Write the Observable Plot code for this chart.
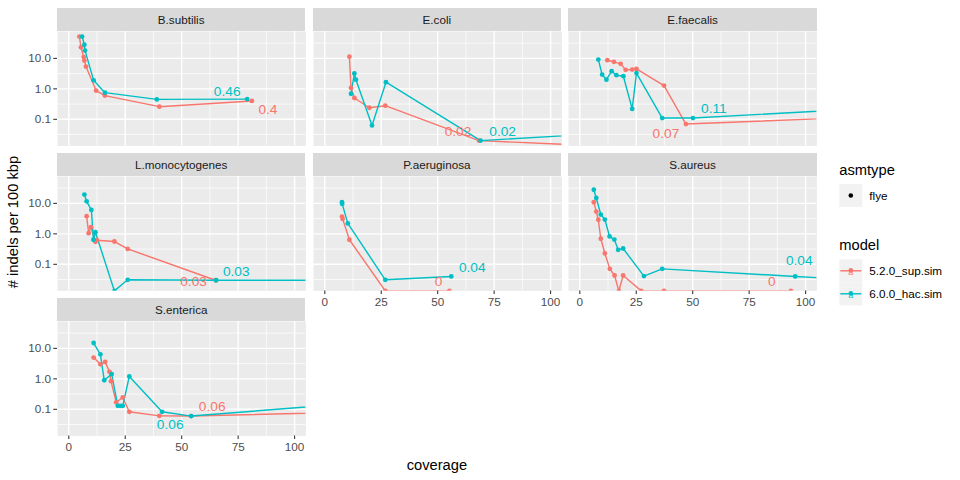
<!DOCTYPE html>
<html><head><meta charset="utf-8">
<script src="https://cdn.jsdelivr.net/npm/d3@7"></script>
<script src="https://cdn.jsdelivr.net/npm/@observablehq/plot@0.6"></script>
<style>
body{margin:0;background:#fff;font-family:"Liberation Sans",Arial,Helvetica,sans-serif;}
#root{position:relative;width:960px;height:480px;overflow:hidden;background:#fff;}
.strip{position:absolute;background:#D9D9D9;color:#1A1A1A;font-size:11.7px;text-align:center;white-space:nowrap;}
.title{position:absolute;color:#000;font-size:14.7px;white-space:nowrap;}
</style></head>
<body><div id="root"></div>
<script>
// ---- data ----
const models = ["5.2.0_sup.sim", "6.0.0_hac.sim"];
const modelColors = ["#F8766D", "#00BFC4"];
const asmtypes = ["flye"];
const species = ["B.subtilis", "E.coli", "E.faecalis", "L.monocytogenes", "P.aeruginosa", "S.aureus", "S.enterica"];

// [coverage, indels per 100 kbp]
const bsubtilisSup = [[4.7,52],[5.4,23],[6.6,11],[6.9,8.5],[7.6,5.4],[12.1,0.88],[16,0.6],[40.1,0.26],[81.1,0.4]];
const bsubtilisHac = [[5.9,52],[6.9,28],[7.2,18],[11,1.9],[16,0.75],[39,0.45],[79,0.46]];
const ecoliSup = [[10.9,11.4],[11.6,1.07],[13.1,0.5],[19.7,0.24],[26.8,0.28],[68.3,0.02],[122,0]];
const ecoliHac = [[11.6,0.69],[13.1,3.2],[13.8,2.0],[20.9,0.063],[27.1,1.65],[69,0.02],[150,0.045]];
const efaecalisSup = [[12.2,8.7],[15.1,7.7],[18.1,6.6],[20.3,4.2],[23.2,4.3],[25.1,4.5],[37.3,1.28],[47,0.07],[150,0.14]];
const efaecalisHac = [[8.2,9.1],[9.9,2.95],[11.8,2.0],[14.1,3.8],[16.2,2.8],[19.3,2.6],[23.2,0.22],[25.1,3.3],[36.5,0.11],[50.1,0.11],[150,0.28]];
const lmonoSup = [[7.9,3.8],[8.8,1.05],[9.8,1.65],[11.8,0.55],[12.4,0.62],[20.2,0.56],[26.1,0.32],[65,0.03]];
const lmonoHac = [[6.9,19.5],[7.9,11.7],[10,6.1],[10.9,0.64],[11.8,1.13],[20.2,0],[26.1,0.031],[65.3,0.03],[150,0.03]];
const paeruginosaSup = [[7.6,3.7],[7.9,3.1],[10.9,0.64],[26.8,0],[55.2,0]];
const paeruginosaHac = [[7.6,10.9],[7.7,9.6],[10.2,2.2],[26.8,0.031],[56,0.04]];
const saureusSup = [[6.2,10.9],[7.3,5.4],[8.2,2.9],[9.3,0.69],[11.1,0.23],[13.3,0.071],[15.4,0.043],[17.3,0],[19.2,0.043],[27.2,0],[37.3,0],[93.5,0]];
const saureusHac = [[6.2,28],[7.3,15],[9.3,4.3],[11.1,2.95],[13.2,0.82],[15.3,0.65],[17,0.3],[19.2,0.33],[28.4,0.041],[36.5,0.071],[95.4,0.04],[150,0.024]];
const sentericaSup = [[11,5.0],[14,3.0],[16.1,3.6],[18,1.7],[18.7,0.84],[21,0.17],[23.9,0.245],[26.8,0.083],[40.1,0.061],[54.2,0.06],[150,0.089]];
const sentericaHac = [[11,15],[14,6.4],[15.7,0.9],[19,1.43],[21.7,0.13],[22.8,0.13],[23.9,0.13],[26.8,1.2],[41.3,0.083],[54.2,0.06],[150,0.22]];

const supCurves = [bsubtilisSup, ecoliSup, efaecalisSup, lmonoSup, paeruginosaSup, saureusSup, sentericaSup];
const hacCurves = [bsubtilisHac, ecoliHac, efaecalisHac, lmonoHac, paeruginosaHac, saureusHac, sentericaHac];
// coverage of the labelled point, per species
const supLabelCov = [81.1, 68.3, 47, 65, 55.2, 93.5, 54.2];
const hacLabelCov = [79, 69, 50.1, 65.3, 56, 95.4, 54.2];

const xTicks = [0, 25, 50, 75, 100];
const xMinor = [12.5, 37.5, 62.5, 87.5];
const yTicks = [0.1, 1, 10];
const yMinor = [10 ** -1.5, 10 ** -0.5, 10 ** 0.5, 10 ** 1.5];

// ---- layout (ggplot facet_wrap look) ----
const labelNudge = {
  sup: [[16,9],[-21,-9],[-20,10],[-22,1],[-11,-9],[-19,-9],[21,-9]],
  hac: [[-20,-8],[22,-9],[21,-9],[20,-9],[21,-9],[4,-16],[-21,9]]
};
const panelW = 248.4, panelH = 114.4, colPitch = 255.7, rowPitch = 145.2;
const left0 = 57, top0 = 31, stripH = 23.5;
const xDom = [-5, 105];
const yDom = [10 ** -1.872, 10 ** 1.882];
const yAcc = d => (d.v > 0 ? d.v : yDom[0]);
const fmtLab = v => String(+v.toFixed(2));
const FONT = '"Liberation Sans",Arial,sans-serif';

const root = document.getElementById("root");

species.forEach((sp, i) => {
  const col = i % 3, row = Math.floor(i / 3);
  const px = left0 + col * colPitch, py = top0 + row * rowPitch;
  const showY = col === 0;
  const showX = i + 3 >= species.length;
  const ml = showY ? 50 : 0, mb = showX ? 26 : 0;
  const rows = [];
  supCurves[i].forEach(([c, v]) => rows.push({cov: c, v, model: models[0]}));
  hacCurves[i].forEach(([c, v]) => rows.push({cov: c, v, model: models[1]}));
  const labs = [
    {d: rows.find(d => d.model === models[0] && d.cov === supLabelCov[i]), n: labelNudge.sup[i]},
    {d: rows.find(d => d.model === models[1] && d.cov === hacLabelCov[i]), n: labelNudge.hac[i]}
  ];
  const marks = [
    Plot.frame({fill: "#EBEBEB"}),
    Plot.gridX({ticks: xMinor, stroke: "white", strokeOpacity: 1, strokeWidth: 0.71}),
    Plot.gridY({ticks: yMinor, stroke: "white", strokeOpacity: 1, strokeWidth: 0.71}),
    Plot.gridX({ticks: xTicks, stroke: "white", strokeOpacity: 1, strokeWidth: 1.42}),
    Plot.gridY({ticks: yTicks, stroke: "white", strokeOpacity: 1, strokeWidth: 1.42}),
    Plot.line(rows, {x: "cov", y: yAcc, z: "model", stroke: "model", strokeWidth: 1.42, clip: true}),
    Plot.dot(rows, {x: "cov", y: yAcc, fill: "model", r: 2.4, clip: true})
  ];
  labs.forEach(l => {
    if (!l.d) return;
    marks.push(Plot.text([l.d], {x: "cov", y: yAcc, text: d => fmtLab(d.v), fill: "model",
      dx: l.n[0], dy: l.n[1], fontSize: 13.7}));
  });
  if (showY) marks.push(Plot.axisY({ticks: yTicks, tickFormat: d3.format(".1f"), tickSize: 3.7, tickPadding: 2.9,
    stroke: "#333333", fill: "#4D4D4D", fontSize: 11.7, strokeWidth: 1.07, label: null}));
  if (showX) marks.push(Plot.axisX({ticks: xTicks, tickFormat: d3.format("d"), tickSize: 3.7, tickPadding: 2.9,
    stroke: "#333333", fill: "#4D4D4D", fontSize: 11.7, strokeWidth: 1.07, label: null}));
  const chart = Plot.plot({
    width: panelW + ml, height: panelH + mb,
    marginLeft: ml, marginRight: 0, marginTop: 0, marginBottom: mb,
    x: {domain: xDom, label: null, ...(showX ? {} : {axis: null})},
    y: {type: "log", domain: yDom, label: null, ...(showY ? {} : {axis: null})},
    color: {domain: models, range: modelColors},
    style: {background: "transparent", overflow: "visible", fontFamily: FONT, fontSize: "11.7px"},
    marks
  });
  chart.style.position = "absolute";
  chart.style.left = (px - ml) + "px";
  chart.style.top = py + "px";
  root.appendChild(chart);
  const strip = document.createElement("div");
  strip.className = "strip";
  strip.textContent = sp;
  Object.assign(strip.style, {left: px + "px", top: (py - stripH) + "px", width: panelW + "px",
    height: stripH + "px", lineHeight: stripH + "px"});
  root.appendChild(strip);
});

// axis titles
const xt = document.createElement("div");
xt.className = "title"; xt.textContent = "coverage";
Object.assign(xt.style, {left: (left0 + (3 * colPitch - 7.3) / 2) + "px", top: "465px", transform: "translate(-50%,-50%)"});
root.appendChild(xt);
const yt = document.createElement("div");
yt.className = "title"; yt.textContent = "# indels per 100 kbp";
Object.assign(yt.style, {left: "13px", top: "222px", transform: "translate(-50%,-50%) rotate(-90deg)"});
root.appendChild(yt);

// legend
const lg = d3.select(root).append("svg")
  .attr("width", 130).attr("height", 160)
  .style("position", "absolute").style("left", "830px").style("top", "155px");
const lx = 9.3, kw = 23;
lg.append("text").attr("x", lx).attr("y", 15).attr("dy", "0.35em")
  .attr("font-size", 14.7).attr("font-family", FONT).text("asmtype");
asmtypes.forEach((a, j) => {
  const y0 = 29 + j * kw;
  lg.append("rect").attr("x", lx).attr("y", y0).attr("width", kw).attr("height", kw).attr("fill", "#F2F2F2");
  lg.append("circle").attr("cx", lx + kw / 2).attr("cy", y0 + kw / 2).attr("r", 2.3).attr("fill", "#000");
  lg.append("text").attr("x", lx + kw + 7).attr("y", y0 + kw / 2).attr("dy", "0.35em")
    .attr("font-size", 11.7).attr("font-family", FONT).text(a);
});
lg.append("text").attr("x", lx).attr("y", 90).attr("dy", "0.35em")
  .attr("font-size", 14.7).attr("font-family", FONT).text("model");
models.forEach((m, j) => {
  const y0 = 104.3 + j * kw, c = modelColors[j];
  lg.append("rect").attr("x", lx).attr("y", y0).attr("width", kw).attr("height", kw).attr("fill", "#F2F2F2");
  lg.append("line").attr("x1", lx + 1).attr("x2", lx + kw - 1).attr("y1", y0 + kw / 2).attr("y2", y0 + kw / 2)
    .attr("stroke", c).attr("stroke-width", 1.42);
  lg.append("circle").attr("cx", lx + kw / 2).attr("cy", y0 + kw / 2 - 0.5).attr("r", 2.3).attr("fill", c);
  lg.append("text").attr("x", lx + kw / 2).attr("y", y0 + kw / 2 + 4.5).attr("text-anchor", "middle")
    .attr("font-size", 9).attr("fill", c).attr("font-family", FONT).text("a");
  lg.append("text").attr("x", lx + kw + 7).attr("y", y0 + kw / 2).attr("dy", "0.35em")
    .attr("font-size", 11.7).attr("font-family", FONT).text(m);
});
</script>
</body></html>
